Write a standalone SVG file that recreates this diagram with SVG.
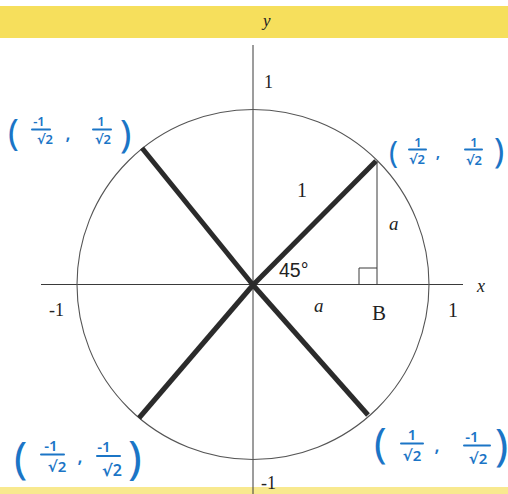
<svg xmlns="http://www.w3.org/2000/svg" width="508" height="494" viewBox="0 0 508 494">
<defs>
<style>
.thin{stroke:#3a3a3a;stroke-width:1;fill:none}
.circ{stroke:#555;stroke-width:1.1;fill:none}
.thick{stroke:#2b2b2b;stroke-width:5;stroke-linecap:butt}
.serif{font-family:"Liberation Serif","Times New Roman",serif;fill:#222}
.it{font-style:italic}
.sans{font-family:"Liberation Sans",Arial,sans-serif;fill:#222}
.hw{font-family:"Noto Sans","DejaVu Sans",sans-serif;fill:#1b75c6;text-anchor:middle;font-weight:600}
.par{font-family:"Noto Sans","DejaVu Sans",sans-serif;fill:#1b75c6;font-weight:400}
.bar{stroke:#1b75c6;stroke-width:2;stroke-linecap:round}
</style>
</defs>
<rect x="0" y="0" width="508" height="494" fill="#fff"/>
<rect id="band-top" x="0" y="6" width="508" height="32" fill="#f6df5c"/>
<rect id="band-bottom" x="0" y="487" width="508" height="7" fill="#f8e98f"/>

<g id="axes">
<line class="thin" x1="253" y1="45" x2="253" y2="494"/>
<line class="thin" x1="41" y1="284.5" x2="463" y2="284.5"/>
</g>
<g id="circle"><ellipse class="circ" cx="253" cy="284.5" rx="176" ry="175"/></g>

<g id="connectors">
<line class="thick" x1="253" y1="285" x2="376" y2="161"/>
<line class="thick" x1="253" y1="285" x2="142" y2="148"/>
<line class="thick" x1="253" y1="285" x2="139" y2="418"/>
<line class="thick" x1="253" y1="285" x2="368" y2="415"/>
<line class="thin" x1="377" y1="161" x2="377" y2="284.5"/>
<polyline class="thin" points="359,284.5 359,268 377,268"/>
</g>

<g id="labels">
<text class="serif it" x="263" y="26" font-size="17">y</text>
<text class="serif" x="264" y="88" font-size="18">1</text>
<text class="serif" x="297" y="197" font-size="20">1</text>
<text class="serif it" x="389" y="230" font-size="19">a</text>
<text class="sans" x="279" y="277" font-size="19.5">45°</text>
<text class="serif it" x="314" y="312" font-size="19">a</text>
<text class="serif" x="372" y="320" font-size="21">B</text>
<text class="serif" x="448" y="317" font-size="20">1</text>
<text class="serif it" x="477" y="292" font-size="18">x</text>
<text class="serif" x="49" y="316" font-size="18">-1</text>
<text class="serif" x="261" y="489" font-size="18">-1</text>
</g>

<g id="pt-top-left">
<text class="par" x="8" y="145" font-size="36">(</text>
<text class="hw" x="39" y="126" font-size="13">-1</text>
<line class="bar" x1="32" y1="129.5" x2="50" y2="129.5"/>
<text class="hw" x="45" y="144" font-size="13">√2</text>
<text class="hw" x="68" y="140" font-size="18">,</text>
<text class="hw" x="101" y="126" font-size="13">1</text>
<line class="bar" x1="93" y1="129.5" x2="111" y2="129.5"/>
<text class="hw" x="103" y="144" font-size="13">√2</text>
<text class="par" x="120" y="147" font-size="38">)</text>
</g>

<g id="pt-top-right">
<text class="par" x="389" y="163" font-size="30">(</text>
<text class="hw" x="418" y="146.5" font-size="13">1</text>
<line class="bar" x1="409" y1="149.5" x2="426" y2="149.5"/>
<text class="hw" x="417" y="164" font-size="13">√2</text>
<text class="hw" x="438" y="158" font-size="16">,</text>
<text class="hw" x="474" y="146.5" font-size="13">1</text>
<line class="bar" x1="465" y1="149.5" x2="482" y2="149.5"/>
<text class="hw" x="474" y="165" font-size="13">√2</text>
<text class="par" x="494" y="163" font-size="34">)</text>
</g>

<g id="pt-bottom-left">
<text class="par" x="14" y="473" font-size="44">(</text>
<text class="hw" x="51" y="451" font-size="15">-1</text>
<line class="bar" x1="41" y1="454.5" x2="64" y2="454.5"/>
<text class="hw" x="57" y="472" font-size="15">√2</text>
<text class="hw" x="80" y="463" font-size="18">,</text>
<text class="hw" x="104" y="452" font-size="15">-1</text>
<line class="bar" x1="97" y1="456" x2="120" y2="456"/>
<text class="hw" x="112" y="476" font-size="16">√2</text>
<text class="par" x="128" y="474" font-size="46">)</text>
</g>

<g id="pt-bottom-right">
<text class="par" x="374" y="458" font-size="42">(</text>
<text class="hw" x="412" y="440" font-size="15">1</text>
<line class="bar" x1="401" y1="443.5" x2="423" y2="443.5"/>
<text class="hw" x="412" y="461" font-size="15">√2</text>
<text class="hw" x="437" y="452" font-size="18">,</text>
<text class="hw" x="472" y="442" font-size="15">-1</text>
<line class="bar" x1="464" y1="445.5" x2="490" y2="445.5"/>
<text class="hw" x="478" y="464" font-size="15">√2</text>
<text class="par" x="495" y="460" font-size="44">)</text>
</g>
</svg>
